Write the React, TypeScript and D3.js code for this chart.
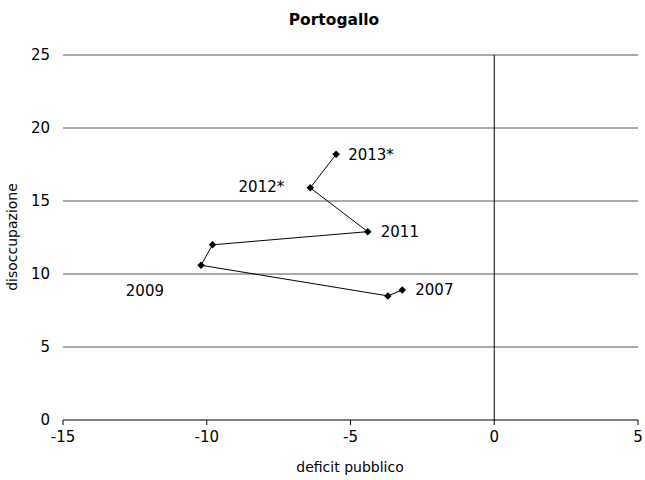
import React from "react";
import * as d3 from "d3";

const years = ["2007", "2008", "2009", "2010", "2011", "2012*", "2013*"];
const deficit = [-3.2, -3.7, -10.2, -9.8, -4.4, -6.4, -5.5];
const unemployment = [8.9, 8.5, 10.6, 12.0, 12.9, 15.9, 18.2];
const showLabel = [true, false, true, false, true, true, true];
const labelAnchor = ["start", "start", "end", "start", "start", "end", "start"];
const labelDx = [13, 0, -37, 0, 13, -26, 12];
const labelDy = [0, 0, 26, 0, 0, -1, 0];
const xTicks = [-15, -10, -5, 0, 5];
const yTicks = [0, 5, 10, 15, 20, 25];

const W = 645, H = 480;
const FONT = "'DejaVu Sans', Verdana, sans-serif";

export default function App() {
  const x = d3.scaleLinear().domain([-15, 5]).range([63, 638]);
  const y = d3.scaleLinear().domain([0, 25]).range([420, 55]);
  const pts = deficit.map((d, i) => [x(d), y(unemployment[i])] as [number, number]);
  const line = d3.line()(pts) || "";
  const diamond = d3.symbol().type(d3.symbolSquare).size(28)() || "";
  return (
    <svg width={W} height={H} style={{ position: "absolute", left: 0, top: 0 }} fontFamily={FONT}>
      <rect width={W} height={H} fill="#fff" />
      <text x={334} y={25} textAnchor="middle" fontWeight="bold" fontSize={15.5}>Portogallo</text>
      {yTicks.map((t) => (
        <g key={t}>
          {t > 0 && <line x1={x(-15)} x2={x(5)} y1={y(t)} y2={y(t)} stroke="#555" strokeWidth={1} />}
          <text x={50} y={y(t)} dy="0.35em" textAnchor="end" fontSize={15}>{t}</text>
        </g>
      ))}
      <line x1={x(0)} x2={x(0)} y1={y(25)} y2={y(0)} stroke="#000" strokeWidth={1} />
      <line x1={x(-15)} x2={x(5)} y1={y(0)} y2={y(0)} stroke="#000" strokeWidth={1} />
      {xTicks.map((t) => (
        <g key={t}>
          <line x1={x(t)} x2={x(t)} y1={y(0)} y2={y(0) + 5} stroke="#000" strokeWidth={1} />
          <text x={x(t)} y={y(0) + 17} dy="0.35em" textAnchor="middle" fontSize={15}>{t}</text>
        </g>
      ))}
      <path d={line} fill="none" stroke="#000" strokeWidth={1} />
      {pts.map((p, i) => (
        <path key={i} d={diamond} transform={`translate(${p[0]},${p[1]}) rotate(45)`} fill="#000" />
      ))}
      {pts.map((p, i) =>
        showLabel[i] ? (
          <text key={i} x={p[0] + labelDx[i]} y={p[1] + labelDy[i]} dy="0.35em" textAnchor={labelAnchor[i] as any} fontSize={15}>
            {years[i]}
          </text>
        ) : null
      )}
      <text x={350} y={467} dy="0.35em" textAnchor="middle" fontSize={14}>deficit pubblico</text>
      <text transform={`translate(12,237) rotate(-90)`} dy="0.35em" textAnchor="middle" fontSize={14}>disoccupazione</text>
    </svg>
  );
}
